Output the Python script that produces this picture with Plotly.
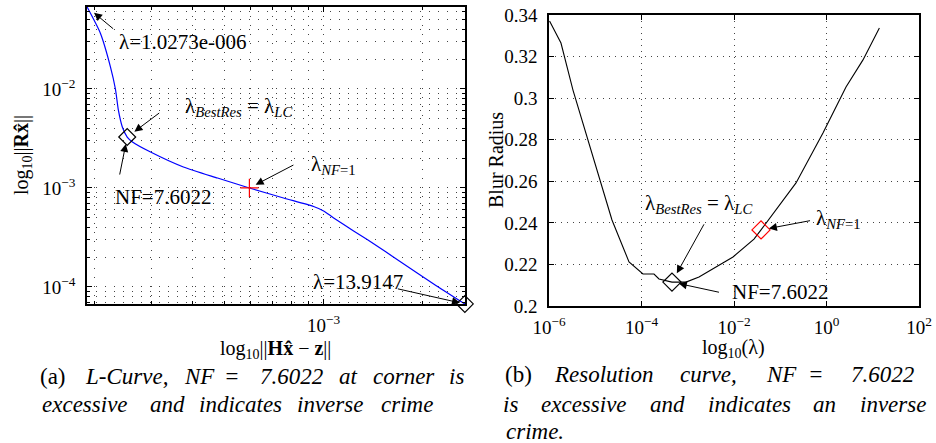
import math
import plotly.graph_objects as go

# ---- L-curve: residual norm vs. solution norm ----
resid_norm = [1.905e-4, 2.089e-4, 2.244e-4, 2.323e-4, 2.371e-4, 2.438e-4, 2.523e-4,
              2.618e-4, 2.972e-4, 3.741e-4, 4.753e-4, 5.943e-4, 7.551e-4, 9.32e-4,
              1.000e-3, 1.073e-3, 1.234e-3, 1.361e-3, 1.718e-3, 2.163e-3, 2.692e-3]
soln_norm = [0.0673, 0.0368, 0.01667, 0.0100, 0.00614, 0.00413, 0.00327,
             0.00292, 0.00231, 0.00163, 0.00126, 0.00100, 0.000792, 0.000650,
             0.000586, 0.000498, 0.000368, 0.000299, 0.000179, 0.0001072, 0.0000673]
lc_corner_idx = 6      # lambda_BestRes = lambda_LC
nf_one_idx_l = 11      # lambda_{NF=1}

# ---- Resolution curve: blur radius vs. lambda ----
lam = [1.0273e-6, 1.815e-6, 3.30e-6, 4.92e-6, 8.93e-6, 1.472e-5, 2.30e-5, 5.37e-5,
       1.076e-4, 1.862e-4, 2.388e-4, 4.56e-4, 9.16e-4, 1.750e-3, 5.78e-3, 9.51e-3,
       2.704e-2, 3.84e-2, 0.2193, 0.839, 2.642, 6.15, 13.9147]
blur = [0.3371, 0.3265, 0.3039, 0.2909, 0.2717, 0.2558, 0.2414, 0.2212,
        0.2154, 0.2154, 0.2130, 0.2115, 0.2115, 0.2140, 0.2207, 0.2236,
        0.2322, 0.2366, 0.2592, 0.2832, 0.3054, 0.3184, 0.3337]
best_res_idx = 11
nf_one_idx_r = 17

left_ytick_vals = [1e-4, 1e-3, 1e-2]
left_ytick_text = ["10<sup>−4</sup>", "10<sup>−3</sup>", "10<sup>−2</sup>"]
left_xtick_vals = [1e-3]
left_xtick_text = ["10<sup>−3</sup>"]
right_xtick_vals = [1e-6, 1e-4, 1e-2, 1, 100]
right_xtick_text = ["10<sup>−6</sup>", "10<sup>−4</sup>", "10<sup>−2</sup>",
                    "10<sup>0</sup>", "10<sup>2</sup>"]
right_ytick_vals = [0.2, 0.22, 0.24, 0.26, 0.28, 0.3, 0.32, 0.34]
right_ytick_text = ["0.2", "0.22", "0.24", "0.26", "0.28", "0.3", "0.32", "0.34"]

W, H = 936, 443
SERIF = "Liberation Serif"
lg = math.log10


def px(x):
    return x / W


def py(y):
    return 1 - y / H


fig = go.Figure()

# L-curve
fig.add_trace(go.Scatter(x=resid_norm, y=soln_norm, mode="lines",
                         line=dict(color="#0000ff", width=1.2, shape="spline",
                                   smoothing=0.6),
                         xaxis="x", yaxis="y", showlegend=False))
fig.add_trace(go.Scatter(x=[resid_norm[lc_corner_idx], resid_norm[-1]],
                         y=[soln_norm[lc_corner_idx], soln_norm[-1]],
                         mode="markers", cliponaxis=False,
                         marker=dict(symbol="diamond-open", size=13, color="black",
                                     line=dict(width=1.2)),
                         xaxis="x", yaxis="y", showlegend=False))
fig.add_trace(go.Scatter(x=[resid_norm[nf_one_idx_l]], y=[soln_norm[nf_one_idx_l]],
                         mode="markers", cliponaxis=False,
                         marker=dict(symbol="cross-thin", size=13, color="red",
                                     line=dict(width=1.2, color="red")),
                         xaxis="x", yaxis="y", showlegend=False))

# Resolution curve
fig.add_trace(go.Scatter(x=lam, y=blur, mode="lines",
                         line=dict(color="black", width=1.1),
                         xaxis="x2", yaxis="y2", showlegend=False))
fig.add_trace(go.Scatter(x=[lam[best_res_idx]], y=[blur[best_res_idx]],
                         mode="markers", cliponaxis=False,
                         marker=dict(symbol="diamond-open", size=14, color="black",
                                     line=dict(width=1.2)),
                         xaxis="x2", yaxis="y2", showlegend=False))
fig.add_trace(go.Scatter(x=[lam[nf_one_idx_r]], y=[blur[nf_one_idx_r]],
                         mode="markers", cliponaxis=False,
                         marker=dict(symbol="diamond-open", size=14, color="red",
                                     line=dict(width=1.2, color="red")),
                         xaxis="x2", yaxis="y2", showlegend=False))

tickfont = dict(family=SERIF, size=19, color="black")
axis_common = dict(showline=True, linecolor="black", linewidth=1.5, mirror="allticks",
                   ticks="inside", ticklen=5, tickcolor="black", tickfont=tickfont,
                   zeroline=False, showgrid=True, gridcolor="#444", gridwidth=1,
                   automargin=False)

fig.update_layout(
    template="none",
    width=W, height=H, margin=dict(l=0, r=0, t=0, b=0, pad=0),
    paper_bgcolor="white", plot_bgcolor="white",
    font=dict(family=SERIF, size=20, color="black"),
    xaxis=dict(type="log", domain=[px(87), px(465)], range=[-3.7205, -2.5695],
               tickmode="array", tickvals=left_xtick_vals, ticktext=left_xtick_text,
               griddash="1px,8px", ticklabelstandoff=3,
               minor=dict(dtick="D1", ticks="inside", ticklen=3, tickcolor="black",
                          showgrid=True, gridcolor="#444", griddash="1px,8px"),
               anchor="y", **axis_common),
    yaxis=dict(type="log", domain=[py(304), py(7)], range=[-4.1725, -1.1715],
               tickmode="array", tickvals=left_ytick_vals, ticktext=left_ytick_text,
               griddash="1px,8px", ticklabelstandoff=6,
               minor=dict(dtick="D1", ticks="inside", ticklen=3, tickcolor="black",
                          showgrid=True, gridcolor="#444", griddash="1px,8px"),
               anchor="x", **axis_common),
    xaxis2=dict(type="log", domain=[px(549), px(919)], range=[-6, 2],
                tickmode="array", tickvals=right_xtick_vals, ticktext=right_xtick_text,
                griddash="1px,5px", ticklabelstandoff=3, anchor="y2", **axis_common),
    yaxis2=dict(domain=[py(306), py(15)], range=[0.2, 0.34],
                tickmode="array", tickvals=right_ytick_vals, ticktext=right_ytick_text,
                griddash="1px,5px", ticklabelstandoff=6, anchor="x2", **axis_common),
)


def label(text, cx, cy, size=21, italic=False, angle=0):
    fig.add_annotation(text=(f"<i>{text}</i>" if italic else text),
                       x=px(cx), y=py(cy), xref="paper", yref="paper",
                       xanchor="center", yanchor="middle", showarrow=False,
                       textangle=angle,
                       font=dict(family=SERIF, size=size, color="black"))


def arrow(xval, yval, xa, ya, ax, ay, standoff):
    fig.add_annotation(text=" ", x=xval, y=yval, xref=xa, yref=ya,
                       ax=ax, ay=ay, showarrow=True, arrowhead=2, arrowsize=1.6,
                       arrowwidth=1, arrowcolor="black", standoff=standoff)


# L-curve annotations
label("λ=1.0273e-006", 183, 42)
arrow(lg(resid_norm[0]), lg(soln_norm[0]), "x", "y", 30, 25, 9)
label("λ<sub><i>BestRes</i></sub> = λ<sub><i>LC</i></sub>", 238, 107)
arrow(lg(resid_norm[lc_corner_idx]), lg(soln_norm[lc_corner_idx]), "x", "y", 36, -27, 9)
label("NF=7.6022", 163, 197)
arrow(lg(resid_norm[lc_corner_idx]), lg(soln_norm[lc_corner_idx]), "x", "y", -10, 50, 7)
label("λ<sub><i>NF</i>=1</sub>", 333, 165)
arrow(lg(resid_norm[nf_one_idx_l]), lg(soln_norm[nf_one_idx_l]), "x", "y", 48, -25, 7)
label("λ=13.9147", 358, 282)
arrow(lg(resid_norm[-1]), lg(soln_norm[-1]), "x", "y", -71, -16, 5)

# Resolution-curve annotations
label("λ<sub><i>BestRes</i></sub> = λ<sub><i>LC</i></sub>", 698, 204)
arrow(lg(lam[best_res_idx]), blur[best_res_idx], "x2", "y2", 36, -65, 10)
label("λ<sub><i>NF</i>=1</sub>", 838, 219)
arrow(lg(lam[nf_one_idx_r]), blur[nf_one_idx_r], "x2", "y2", 53, -10, 8)
label("NF=7.6022", 780, 292)
arrow(lg(lam[best_res_idx]), blur[best_res_idx], "x2", "y2", 51, 11, 7)

# Axis titles
label("log<sub>10</sub>||<b>Rx̂</b>||", 22, 155, size=20, angle=-90)
label("log<sub>10</sub>||<b>Hx̂</b> − <b>z</b>||", 275, 349, size=20)
label("Blur Radius", 496, 160, size=20, angle=-90)
label("log<sub>10</sub>(λ)", 733, 348, size=20)

# Captions, word by word so the justified lines keep their spacing
caption_a1 = [("(a)", 53, False), ("L-Curve,", 126, True), ("NF", 199, True),
              ("=", 232, True), ("7.6022", 291, True), ("at", 348, True),
              ("corner", 404, True), ("is", 456, True)]
caption_a2 = [("excessive", 85, True), ("and", 167, True), ("indicates", 241, True),
              ("inverse", 330, True), ("crime", 407, True)]
caption_b1 = [("(b)", 518, False), ("Resolution", 603, True), ("curve,", 708, True),
              ("NF", 781, True), ("=", 816, True), ("7.6022", 882, True)]
caption_b2 = [("is", 511, True), ("excessive", 584, True), ("and", 667, True),
              ("indicates", 749, True), ("an", 824, True), ("inverse", 893, True)]
caption_b3 = [("crime.", 535, True)]

for words, yy in [(caption_a1, 376), (caption_a2, 404), (caption_b1, 374),
                  (caption_b2, 404), (caption_b3, 431)]:
    for w, cx, it in words:
        label(w, cx, yy, size=23, italic=it)

fig.write_html("out.html")
